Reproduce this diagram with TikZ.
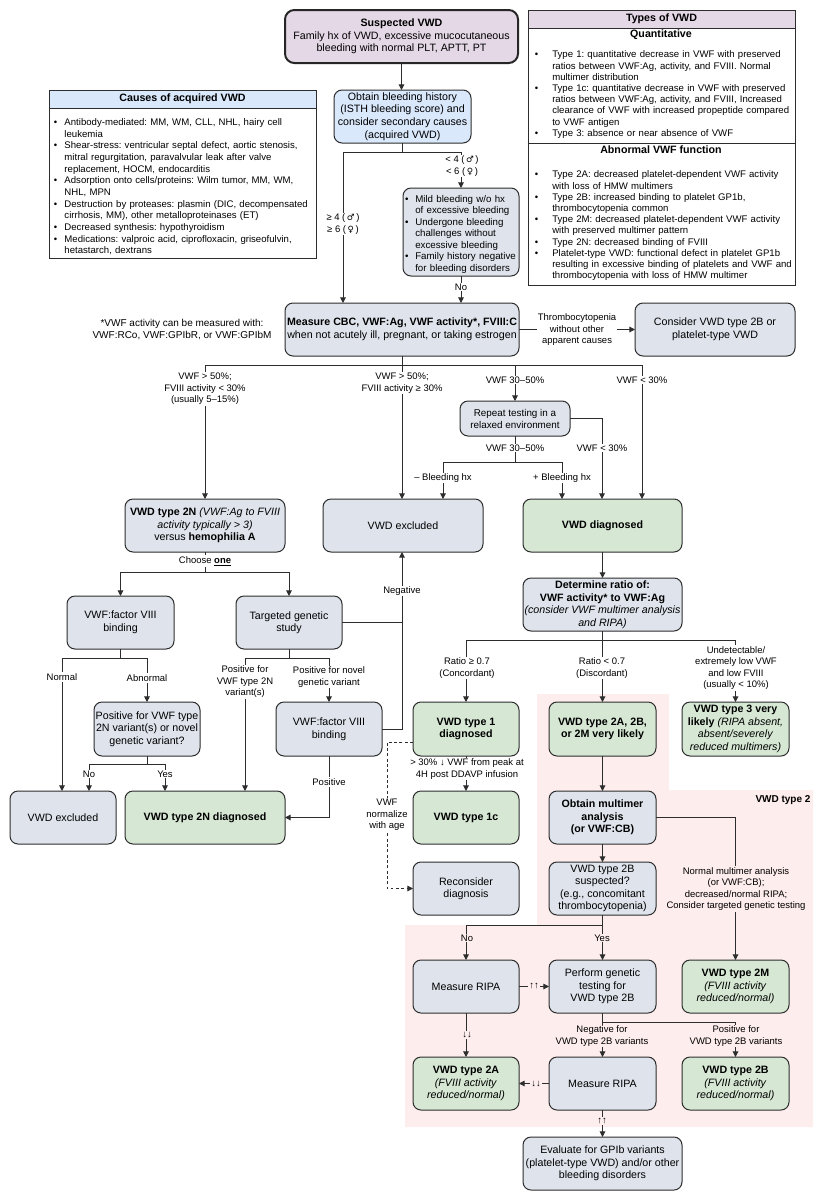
\documentclass[tikz,border=0pt]{standalone}
\usepackage{fontspec}
\setmainfont{Liberation Sans}
\newfontfamily\symf{DejaVu Sans}
\usetikzlibrary{arrows.meta}
\definecolor{gfill}{RGB}{223,228,236}
\definecolor{grfill}{RGB}{214,232,212}
\definecolor{pfill}{RGB}{228,215,230}
\definecolor{bfill}{RGB}{218,232,252}
\definecolor{pinkbg}{RGB}{253,237,237}
\definecolor{lc}{RGB}{45,45,45}
\frenchspacing
\newlength\hng
\newcommand{\bi}{\par\noindent\hangindent=\hng\hangafter=1\makebox[\hng][l]{\hspace{0.5pt}\textbullet}}
\newcommand{\ml}{{\symf\fontsize{6.5}{8}\selectfont ♂}}
\newcommand{\fm}{{\symf\fontsize{6.5}{8}\selectfont ♀}}
\newcommand{\bx}[7]{\node[#6, minimum width={(#4-#2)*0.75pt}, minimum height={(#5-#3)*0.75pt}] (#1) at ({(#2+#4)/2},{(#3+#5)/2}) {#7};}
\begin{document}
\begin{tikzpicture}[x=0.75pt,y=-0.75pt, font=\fontsize{8}{9.4}\selectfont,
 >={Triangle[length=4.2pt,width=4.2pt]},
 box/.style={draw=lc,line width=0.75pt,rounded corners=6pt,align=center,inner sep=1pt,outer sep=0pt},
 gbox/.style={box,fill=gfill},
 grbox/.style={box,fill=grfill},
 ln/.style={draw=lc,line width=0.75pt},
 arr/.style={ln,->},
 dsh/.style={ln,dash pattern=on 2.2pt off 1.8pt},
 lbl/.style={fill=white,inner sep=0.8pt,align=center,font=\fontsize{7.1}{8.6}\selectfont},
 lblp/.style={lbl,fill=pinkbg},
 listtxt/.style={anchor=north west,inner sep=0pt,align=left,font=\fontsize{7.2}{8.75}\selectfont},
 listtxtb/.style={anchor=north west,inner sep=0pt,align=left,font=\fontsize{7.2}{8.4}\selectfont},
 hdr/.style={draw=lc,line width=0.75pt,inner sep=0pt,outer sep=0pt,font=\fontsize{8}{9.4}\selectfont\bfseries}
 ]
\useasboundingbox (0,0) rectangle (824,1200);
\fill[white] (0,0) rectangle (824,1200);
% pink region
\fill[pinkbg] (537,694) -- (669,694) -- (669,790) -- (813,790) -- (813,1127) -- (405,1127) -- (405,925) -- (537,925) -- cycle;
\node[font=\fontsize{7.5}{9}\selectfont\bfseries] (vt2) at (783,800) {VWD type 2};

% ---------- Causes box
\bx{causes}{49}{90}{316}{258}{draw=lc,line width=0.75pt,fill=white,inner sep=0pt}{}
\bx{causesh}{49}{90}{316}{108}{hdr,fill=bfill}{Causes of acquired VWD}
\node[listtxt,text width=200pt] (causestxt) at (53,113.5) {\setlength\hng{8.4pt}\parskip=0pt%
\bi Antibody-mediated: MM, WM, CLL, NHL, hairy cell\newline leukemia
\bi Shear-stress: ventricular septal defect, aortic stenosis,\newline mitral regurgitation, paravalvular leak after valve\newline replacement, HOCM, endocarditis
\bi Adsorption onto cells/proteins: Wilm tumor, MM, WM,\newline NHL, MPN
\bi Destruction by proteases: plasmin (DIC, decompensated\newline cirrhosis, MM), other metalloproteinases (ET)
\bi Decreased synthesis: hypothyroidism
\bi Medications: valproic acid, ciprofloxacin, griseofulvin,\newline hetastarch, dextrans\par};

% ---------- Types box
\bx{types}{528}{10}{795}{285}{draw=lc,line width=0.75pt,fill=white,inner sep=0pt}{}
\bx{typesh}{528}{10}{795}{28}{hdr,fill=pfill}{Types of VWD}
\draw[ln] (types.west |- 0,143) -- (types.east |- 0,143);
\node[font=\fontsize{8}{9.4}\selectfont\bfseries] (quant) at (661,35) {Quantitative};
\node[font=\fontsize{8}{9.4}\selectfont\bfseries] (abn) at (661,150) {Abnormal VWF function};
\node[listtxtb,text width=205pt] (quanttxt) at (534,46.5) {\setlength\hng{13.5pt}\parskip=0pt%
\bi Type 1: quantitative decrease in VWF with preserved\newline ratios between VWF:Ag, activity, and FVIII. Normal\newline multimer distribution
\bi Type 1c: quantitative decrease in VWF with preserved\newline ratios between VWF:Ag, activity, and FVIII, Increased\newline clearance of VWF with increased propeptide compared\newline to VWF antigen
\bi Type 3: absence or near absence of VWF\par};
\node[listtxtb,text width=205pt] (abntxt) at (534,166.5) {\setlength\hng{13.5pt}\parskip=0pt%
\bi Type 2A: decreased platelet-dependent VWF activity\newline with loss of HMW multimers
\bi Type 2B: increased binding to platelet GP1b,\newline thrombocytopenia common
\bi Type 2M: decreased platelet-dependent VWF activity\newline with preserved multimer pattern
\bi Type 2N: decreased binding of FVIII
\bi Platelet-type VWD: functional defect in platelet GP1b\newline resulting in excessive binding of platelets and VWF and\newline thrombocytopenia with loss of HMW multimer\par};

% ---------- Nodes
\bx{susp}{285}{10}{518}{63}{box,fill=pfill,line width=1.5pt,draw=black!85,rounded corners=7pt}{\textbf{Suspected VWD}\\Family hx of VWD, excessive mucocutaneous\\bleeding with normal PLT, APTT, PT}
\bx{obt}{334}{90}{471}{143}{box,fill=bfill}{Obtain bleeding history\\(ISTH bleeding score) and\\consider secondary causes\\(acquired VWD)}
\bx{mild}{403}{188}{519}{276}{gbox,inner sep=0.5pt,text width=85pt,align=left,font=\fontsize{7.3}{8.6}\selectfont}{\setlength\hng{8.2pt}\parskip=0pt\hyphenpenalty=10000%
\bi Mild bleeding w/o hx\newline of excessive bleeding
\bi Undergone bleeding\newline challenges without\newline excessive bleeding
\bi Family history negative\newline for bleeding disorders\par}
\bx{cbc}{285}{303}{519}{356}{gbox}{\textbf{Measure CBC, VWF:Ag, VWF activity*, FVIII:C}\\when not acutely ill, pregnant, or taking estrogen}
\bx{consider}{635}{303}{795}{356}{gbox}{Consider VWD type 2B or\\platelet-type VWD}
\node[align=center,font=\fontsize{7.5}{9}\selectfont] (foot) at (182,330) {*VWF activity can be measured with:\\VWF:RCo, VWF:GPIbR, or VWF:GPIbM};
\bx{rep}{460}{401}{570}{436}{gbox,font=\fontsize{7.4}{9}\selectfont}{Repeat testing in a\\relaxed environment}
\bx{t2n}{125}{499}{285}{552}{gbox}{\textbf{VWD type 2N} \textit{(VWF:Ag to FVIII}\\\textit{activity typically > 3)}\\versus \textbf{hemophilia A}}
\bx{vex}{323}{499}{483}{552}{gbox}{VWD excluded}
\bx{vdiag}{523}{499}{682}{552}{grbox}{\textbf{VWD diagnosed}}
\bx{fb1}{67}{596}{174}{649}{gbox}{VWF:factor VIII\\binding}
\bx{tgs}{236}{596}{342}{649}{gbox}{Targeted genetic\\study}
\bx{pos2n}{94}{702}{200}{756}{gbox}{Positive for VWF type\\2N variant(s) or novel\\genetic variant?}
\bx{fb2}{276}{702}{382}{756}{gbox}{VWF:factor VIII\\binding}
\bx{vexl}{10}{791}{116}{844}{gbox}{VWD excluded}
\bx{d2n}{125}{791}{285}{844}{grbox}{\textbf{VWD type 2N diagnosed}}
\bx{det}{523}{578}{682}{631}{gbox}{\textbf{Determine ratio of:}\\\textbf{VWF activity* to VWF:Ag}\\\textit{(consider VWF multimer analysis}\\\textit{and RIPA)}}
\bx{t1}{413}{702}{519}{756}{grbox}{\textbf{VWD type 1}\\\textbf{diagnosed}}
\bx{t2abm}{549}{702}{656}{756}{grbox}{\textbf{VWD type 2A, 2B,}\\\textbf{or 2M very likely}}
\bx{t3}{682}{702}{789}{756}{grbox}{\textbf{VWD type 3 very}\\\textbf{likely} \textit{(RIPA absent,}\\\textit{absent/severely}\\\textit{reduced multimers)}}
\bx{t1c}{413}{791}{519}{844}{grbox}{\textbf{VWD type 1c}}
\bx{recon}{413}{862}{519}{915}{gbox}{Reconsider\\diagnosis}
\bx{mult}{549}{791}{656}{844}{gbox}{\textbf{Obtain multimer}\\\textbf{analysis}\\\textbf{(or VWF:CB)}}
\bx{s2b}{549}{862}{656}{915}{gbox}{VWD type 2B\\suspected?\\(e.g., concomitant\\thrombocytopenia)}
\bx{ripa1}{413}{960}{519}{1013}{gbox}{Measure RIPA}
\bx{gen}{549}{960}{656}{1013}{gbox}{Perform genetic\\testing for\\VWD type 2B}
\bx{t2m}{682}{960}{789}{1013}{grbox}{\textbf{VWD type 2M}\\\textit{(FVIII activity}\\\textit{reduced/normal)}}
\bx{t2a}{413}{1057}{519}{1110}{grbox}{\textbf{VWD type 2A}\\\textit{(FVIII activity}\\\textit{reduced/normal)}}
\bx{ripa2}{549}{1057}{656}{1110}{gbox}{Measure RIPA}
\bx{t2b}{682}{1057}{789}{1110}{grbox}{\textbf{VWD type 2B}\\\textit{(FVIII activity}\\\textit{reduced/normal)}}
\bx{eval}{523}{1137}{682}{1190}{gbox}{Evaluate for GPIb variants\\(platelet-type VWD) and/or other\\bleeding disorders}

% ---------- Connectors
\draw[arr] (susp.south) -- (susp.south |- obt.north);
\coordinate (j1) at (402,152);
\draw[ln] (obt.south) -- (obt.south |- j1);
\draw[arr] (j1) -| (cbc.north -| 343,0);
\draw[arr] (j1) -| (mild.north);
\draw[arr] (mild.south) -- (mild.south |- cbc.north);
\draw[arr] (cbc.east) -- (consider.west);
\coordinate (j2) at (402,365);
\draw[ln] (cbc.south) -- (cbc.south |- j2);
\draw[ln] (t2n.north |- j2) -- (642,365);
\draw[arr] (t2n.north |- j2) -- (t2n.north);
\draw[arr] (j2) -- (vex.north -| j2);
\draw[arr] (rep.north |- j2) -- (rep.north);
\draw[arr] (642,365) -- (vdiag.north -| 642,0);
\draw[ln] (rep.south) -- (rep.south |- 0,462);
\draw[ln] (443,462) -- (562,462);
\draw[arr] (443,462) -- (vex.north -| 443,0);
\draw[arr] (562,462) -- (vdiag.north -| 562,0);
\draw[arr] (rep.east) -| (vdiag.north -| 602,0);
% 2N branch
\draw[ln] (t2n.south) -- (t2n.south |- 0,572);
\draw[ln] (fb1.north |- 0,572) -- (tgs.north |- 0,572);
\draw[arr] (fb1.north |- 0,572) -- (fb1.north);
\draw[arr] (tgs.north |- 0,572) -- (tgs.north);
\draw[ln] (fb1.south) -- (fb1.south |- 0,658);
\draw[ln] (62,658) -- (pos2n.north |- 0,658);
\draw[arr] (62,658) -- (vexl.north -| 62,0);
\draw[arr] (pos2n.north |- 0,658) -- (pos2n.north);
\draw[ln] (pos2n.south) -- (pos2n.south |- 0,764);
\draw[ln] (89,764) -- (165,764);
\draw[arr] (89,764) -- (vexl.north -| 89,0);
\draw[arr] (165,764) -- (d2n.north -| 165,0);
\draw[ln] (tgs.south) -- (tgs.south |- 0,658);
\draw[ln] (245,658) -- (fb2.north |- 0,658);
\draw[arr] (245,658) -- (d2n.north -| 245,0);
\draw[arr] (fb2.north |- 0,658) -- (fb2.north);
\draw[arr] (fb2.south) |- (d2n.east);
\draw[arr] (fb2.east) -| (vex.south -| 402,0);
\draw[ln] (tgs.east) -- (tgs.east -| 402,0);
% diagnosed branch
\draw[arr] (vdiag.south) -- (det.north);
\draw[ln] (det.south) -- (det.south |- 0,640);
\draw[ln] (t1.north |- 0,640) -- (t3.north |- 0,640);
\draw[arr] (t1.north |- 0,640) -- (t1.north);
\draw[arr] (t2abm.north |- 0,640) -- (t2abm.north);
\draw[arr] (t3.north |- 0,640) -- (t3.north);
\draw[arr] (t1.south) -- (t1c.north);
\draw[dsh,->] (t1.west |- 0,742) -- (387,742) |- (recon.west);
\draw[arr] (t2abm.south) -- (mult.north);
\draw[arr] (mult.south) -- (s2b.north);
\draw[arr] (mult.east) -| (t2m.north);
\draw[ln] (s2b.south) -- (s2b.south |- 0,925);
\draw[arr] (s2b.south |- 0,925) -| (ripa1.north);
\draw[arr] (s2b.south |- 0,925) -- (gen.north);
\draw[arr] (ripa1.east) -- (gen.west);
\draw[arr] (ripa1.south) -- (t2a.north);
\draw[ln] (gen.south) -- (gen.south |- 0,1022);
\draw[arr] (gen.south |- 0,1022) -- (ripa2.north);
\draw[arr] (gen.south |- 0,1022) -| (t2b.north);
\draw[arr] (ripa2.west) -- (t2a.east);
\draw[arr] (ripa2.south) -- (eval.north);

% ---------- Labels
\node[lbl] (la1) at (343,224) {≥ 4 (\,\ml\,)\\≥ 6 (\,\fm\,)};
\node[lbl] (la2) at (462,166) {< 4 (\,\ml\,)\\< 6 (\,\fm\,)};
\node[lbl] (la3) at (461,287) {No};
\node[lbl] (la4) at (577,330) {Thrombocytopenia\\without other\\apparent causes};
\node[lbl] (la5) at (205,389) {VWF > 50\%;\\FVIII activity < 30\%\\(usually 5–15\%)};
\node[lbl] (la6) at (402,383) {VWF > 50\%;\\FVIII activity ≥ 30\%};
\node[lbl] (la7) at (515,380) {VWF 30–50\%};
\node[lbl] (la8) at (642,380) {VWF < 30\%};
\node[lbl] (la9) at (515,448) {VWF 30–50\%};
\node[lbl] (la10) at (602,448) {VWF < 30\%};
\node[lbl] (la11) at (443,478) {– Bleeding hx};
\node[lbl] (la12) at (562,478) {+ Bleeding hx};
\node[lbl] (la13) at (205,561) {Choose \textbf{\underline{one}}};
\node[lbl] (la14) at (62,677) {Normal};
\node[lbl] (la15) at (147,678) {Abnormal};
\node[lbl] (la16) at (89,774) {No};
\node[lbl] (la17) at (165,774) {Yes};
\node[lbl] (la18) at (245,682) {Positive for\\VWF type 2N\\variant(s)};
\node[lbl] (la19) at (329,677) {Positive for novel\\genetic variant};
\node[lbl] (la20) at (329,782) {Positive};
\node[lbl] (la21) at (402,591) {Negative};
\node[lbl] (la22) at (467,668) {Ratio ≥ 0.7\\(Concordant)};
\node[lbl] (la23) at (602,668) {Ratio < 0.7\\(Discordant)};
\node[lbl] (la24) at (736,668) {Undetectable/\\extremely low VWF\\and low FVIII\\(usually < 10\%)};
\node[lbl] (la25) at (467,769) {> 30\% ↓ VWF from peak at\\4H post DDAVP infusion};
\node[lbl] (la26) at (387,815) {VWF\\normalize\\with age};
\node[lblp] (la27) at (736,889) {Normal multimer analysis\\(or VWF:CB);\\decreased/normal RIPA;\\Consider targeted genetic testing};
\node[lblp] (la28) at (467,938) {No};
\node[lblp] (la29) at (602,938) {Yes};
\node[lblp] (la30) at (534,986) {↑↑};
\node[lblp] (la31) at (467,1035) {↓↓};
\node[lblp] (la32) at (602,1036) {Negative for\\VWD type 2B variants};
\node[lblp] (la33) at (736,1036) {Positive for\\VWD type 2B variants};
\node[lblp] (la34) at (536,1084) {↓↓};
\node[lblp] (la35) at (602,1121) {↑↑};
\end{tikzpicture}
\end{document}
